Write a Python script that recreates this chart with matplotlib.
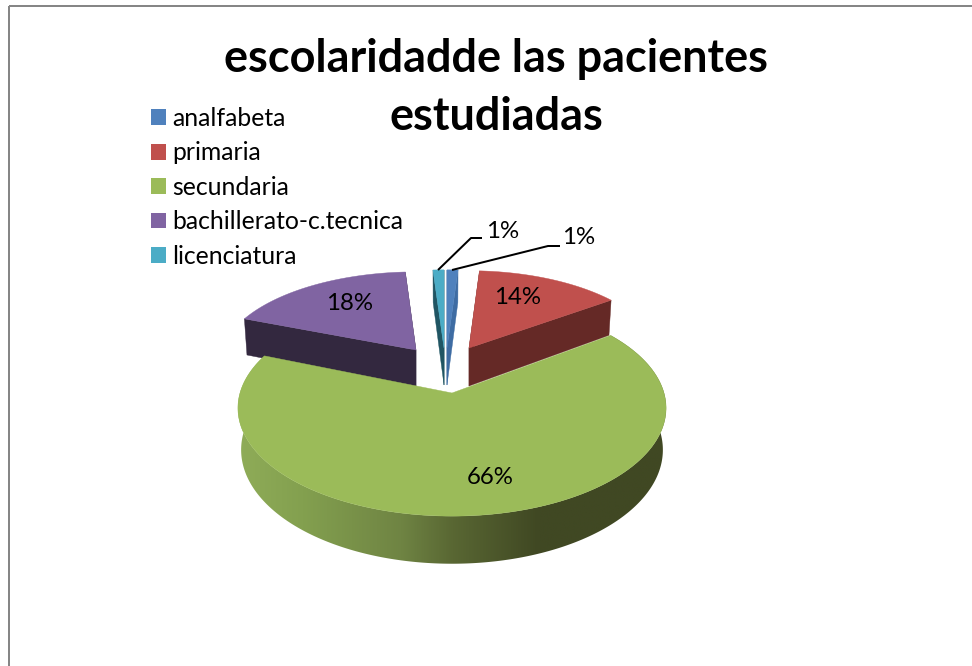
import numpy as np
import matplotlib
matplotlib.use("Agg")
import matplotlib.pyplot as plt
from matplotlib.patches import Patch, Polygon, Rectangle
from matplotlib.colors import LinearSegmentedColormap

# ---- data ----
categories = ["analfabeta", "primaria", "secundaria", "bachillerato-c.tecnica", "licenciatura"]
percentages = [1, 14, 66, 18, 1]
title_lines = ["escolaridadde las pacientes", "estudiadas"]

# ---- styles ----
face_colors = ["#4f81bd", "#c0504d", "#9bbb59", "#8064a2", "#4bacc6"]
wall_colors = ["#3e6ca3", "#652926", "#9bbb59", "#33283f", "#205563"]
# pie geometry per slice: apex x, apex y, radius x, radius y, wall depth
geometry = [
    (447, 348, 200, 89, 37),
    (469, 348, 190, 88, 38),
    (452, 393, 212, 106, 41),
    (416, 350, 194, 89, 38),
    (444, 348, 200, 89, 37),
]
PERSP = 0.139
WALL_SHRINK = 0.985
label_pos = [(579, 238), (518, 298), (490, 477), (350, 303), (503, 231)]
leaders = [[(452, 270), (548, 246), (560, 246)], None, None, None,
           [(438, 270), (471, 238), (482, 238)]]
title_baselines = [72, 130]
wall_ramp = LinearSegmentedColormap.from_list(
    "wall", [(0.0, "#8fac58"), (0.15, "#83a04f"), (0.38, "#6f8443"),
             (0.50, "#596733"), (0.70, "#404823"), (1.0, "#404823")])

LATO = ["Lato", "DejaVu Sans"]
PX = 72 / 100

fig = plt.figure(figsize=(9.72, 6.66), dpi=100, facecolor="white")
ax = fig.add_axes([0, 0, 1, 1])
ax.set_xlim(0, 972)
ax.set_ylim(666, 0)
ax.axis("off")

ax.add_patch(Rectangle((9, 6), 1000, 1000, fill=False, edgecolor="#868686", lw=2 * PX))


def project(theta, geo):
    ax0, ay0, rx, ry, _ = geo
    u, v = np.sin(theta), np.cos(theta)
    den = 1 + PERSP * v
    return ax0 + rx * u / den, ay0 - ry * v / den, den


def drop(x, y, den, geo):
    ax0, _, _, _, depth = geo
    return ax0 + WALL_SHRINK * (x - ax0), y + depth / den


edges = np.concatenate([[0], np.cumsum(percentages)]) / sum(percentages) * 2 * np.pi
spans = list(zip(edges[:-1], edges[1:]))


def draw_slice(i):
    geo = geometry[i]
    t0, t1 = spans[i]
    apex = (geo[0], geo[1])
    apex_low = (geo[0], geo[1] + geo[4])
    # cut faces that are turned towards the viewer
    if i != 2:
        for t in (t0, t1):
            x, y, den = project(t, geo)
            xb, yb = drop(x, y, den, geo)
            ax.add_patch(Polygon([apex, (x, y), (xb, yb), apex_low],
                                 closed=True, fc=wall_colors[i], ec=wall_colors[i], lw=0.3))
    ts = np.linspace(t0, t1, 400)
    xs, ys, dens = project(ts, geo)
    if i == 2:
        # outer wall with a smooth left-to-right shading, clipped to the wall outline
        xb, yb = drop(xs, ys, dens, geo)
        outline = list(zip(xs, ys)) + list(zip(xb[::-1], yb[::-1]))
        clip = Polygon(outline, closed=True, transform=ax.transData, fc="none", ec="none")
        ax.add_patch(clip)
        lo, hi = xs.min(), xs.max()
        shade = np.linspace(0, 1, 512)[None, :]
        im = ax.imshow(shade, cmap=wall_ramp, extent=(lo, hi, yb.max() + 2, ys.min()),
                       aspect="auto", interpolation="bilinear", zorder=1.05)
        im.set_clip_path(clip)
        ax.set_xlim(0, 972)
        ax.set_ylim(666, 0)
    verts = [apex] + list(zip(xs, ys))
    ax.add_patch(Polygon(verts, closed=True, fc=face_colors[i], ec=face_colors[i], lw=0.3,
                         zorder=1.1 if i == 2 else 1))


for i in (3, 1, 0, 4, 2):
    draw_slice(i)

for i, pct in enumerate(percentages):
    ax.text(*label_pos[i], f"{pct}%", ha="center", va="center",
            fontsize=24 * PX, family=LATO, color="black", zorder=3)
    if leaders[i]:
        ax.plot(*zip(*leaders[i]), color="black", lw=2 * PX, solid_capstyle="butt", zorder=3)

handles = [Patch(facecolor=c, edgecolor="none") for c in face_colors]
fs = 24.8 * PX
ax.legend(handles, categories, loc="upper left", bbox_to_anchor=(151 / 972, 1 - 107 / 666),
          frameon=False, prop={"family": "Lato", "size": fs},
          borderpad=0, borderaxespad=0, handlelength=15 * PX / fs, handleheight=15 * PX / fs,
          handletextpad=6 * PX / fs, labelspacing=0.46)

for line, base in zip(title_lines, title_baselines):
    ax.text(496, base, line, ha="center", va="baseline",
            fontsize=45 * PX, fontweight="bold", family=LATO, zorder=3)

fig.savefig("out.png", dpi=100, facecolor="white")
